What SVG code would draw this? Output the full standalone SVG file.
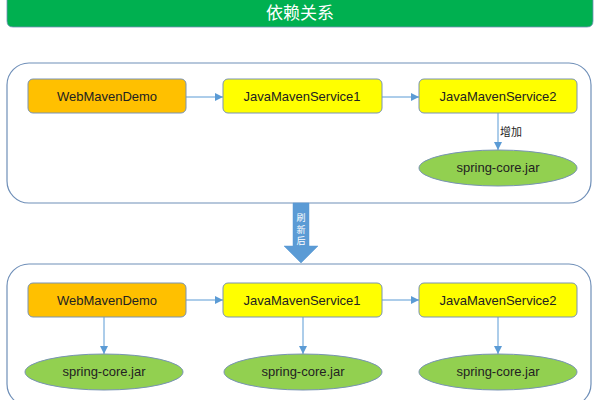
<svg xmlns="http://www.w3.org/2000/svg" width="600" height="400" viewBox="0 0 600 400">
<defs>
<style>
.box{stroke:#7893b5;stroke-width:1}
.orange{fill:#FFC000}
.yellow{fill:#FFFF00}
.jar{fill:#92D050;stroke:#7893b5;stroke-width:1}
.container{fill:#fff;stroke:#6f8fb8;stroke-width:1.2}
.lbl{font-family:"Liberation Sans","Noto Sans",sans-serif;font-size:13px;fill:#222;text-anchor:middle}
.edge{stroke:#5B9BD5;stroke-width:1;fill:none;marker-end:url(#ah)}
.cjk{font-family:"Noto Sans CJK SC",sans-serif}
</style>
<marker id="ah" viewBox="0 0 10 10" refX="10" refY="5" markerWidth="8" markerHeight="8" markerUnits="userSpaceOnUse" orient="auto">
<path d="M0,0 L10,5 L0,10 z" fill="#5B9BD5"/>
</marker>
</defs>
<rect width="600" height="400" fill="#fff"/>
<g id="title">
<path d="M7,-5 H593 V21 Q593,27 587,27 H13 Q7,27 7,21 Z" fill="#00B050" stroke="#6f8fb8" stroke-width="0.8"/>
<text x="300" y="19" class="cjk" font-size="17" fill="#fff" text-anchor="middle">依赖关系</text>
</g>
<g id="before">
<rect class="container" x="7" y="63" width="584" height="140" rx="22"/>
</g>
<g id="after">
<rect class="container" x="7" y="264" width="584" height="142" rx="22"/>
</g>
<g id="refresh">
<path d="M293,203 H309 V246 H318 L301,263 L284,246 H293 Z" fill="#5B9BD5" stroke="#5B9BD5" stroke-width="0.5"/>
<text class="cjk" font-size="9" fill="#fff" text-anchor="middle"><tspan x="301" y="221">刷</tspan><tspan x="301" y="232.5">新</tspan><tspan x="301" y="244">后</tspan></text>
</g>
<g id="connectors">
<line class="edge" x1="186" y1="97" x2="223" y2="97"/>
<line class="edge" x1="382" y1="97" x2="419" y2="97"/>
<line class="edge" x1="498" y1="113" x2="498" y2="150"/>
<text x="500" y="136" class="cjk" font-size="11" fill="#222">增加</text>
<line class="edge" x1="186" y1="300" x2="223" y2="300"/>
<line class="edge" x1="382" y1="300" x2="419" y2="300"/>
<line class="edge" x1="104" y1="317" x2="104" y2="354"/>
<line class="edge" x1="303" y1="317" x2="303" y2="354"/>
<line class="edge" x1="498" y1="317" x2="498" y2="354"/>
</g>
<g id="web1"><rect class="box orange" x="28" y="79" width="158" height="34" rx="5"/><text class="lbl" x="107" y="101">WebMavenDemo</text></g>
<g id="svc1a"><rect class="box yellow" x="223" y="79" width="159" height="34" rx="5"/><text class="lbl" x="302" y="101">JavaMavenService1</text></g>
<g id="svc2a"><rect class="box yellow" x="419" y="79" width="158" height="34" rx="5"/><text class="lbl" x="498" y="101">JavaMavenService2</text></g>
<g id="jar1"><ellipse class="jar" cx="498" cy="168" rx="79" ry="18"/><text class="lbl" x="498" y="172">spring-core.jar</text></g>
<g id="web2"><rect class="box orange" x="28" y="283" width="158" height="34" rx="5"/><text class="lbl" x="107" y="305">WebMavenDemo</text></g>
<g id="svc1b"><rect class="box yellow" x="223" y="283" width="159" height="34" rx="5"/><text class="lbl" x="302" y="305">JavaMavenService1</text></g>
<g id="svc2b"><rect class="box yellow" x="419" y="283" width="158" height="34" rx="5"/><text class="lbl" x="498" y="305">JavaMavenService2</text></g>
<g id="jar2"><ellipse class="jar" cx="104" cy="372" rx="79" ry="18"/><text class="lbl" x="104" y="376">spring-core.jar</text></g>
<g id="jar3"><ellipse class="jar" cx="303" cy="372" rx="79" ry="18"/><text class="lbl" x="303" y="376">spring-core.jar</text></g>
<g id="jar4"><ellipse class="jar" cx="498" cy="372" rx="79" ry="18"/><text class="lbl" x="498" y="376">spring-core.jar</text></g>
</svg>
